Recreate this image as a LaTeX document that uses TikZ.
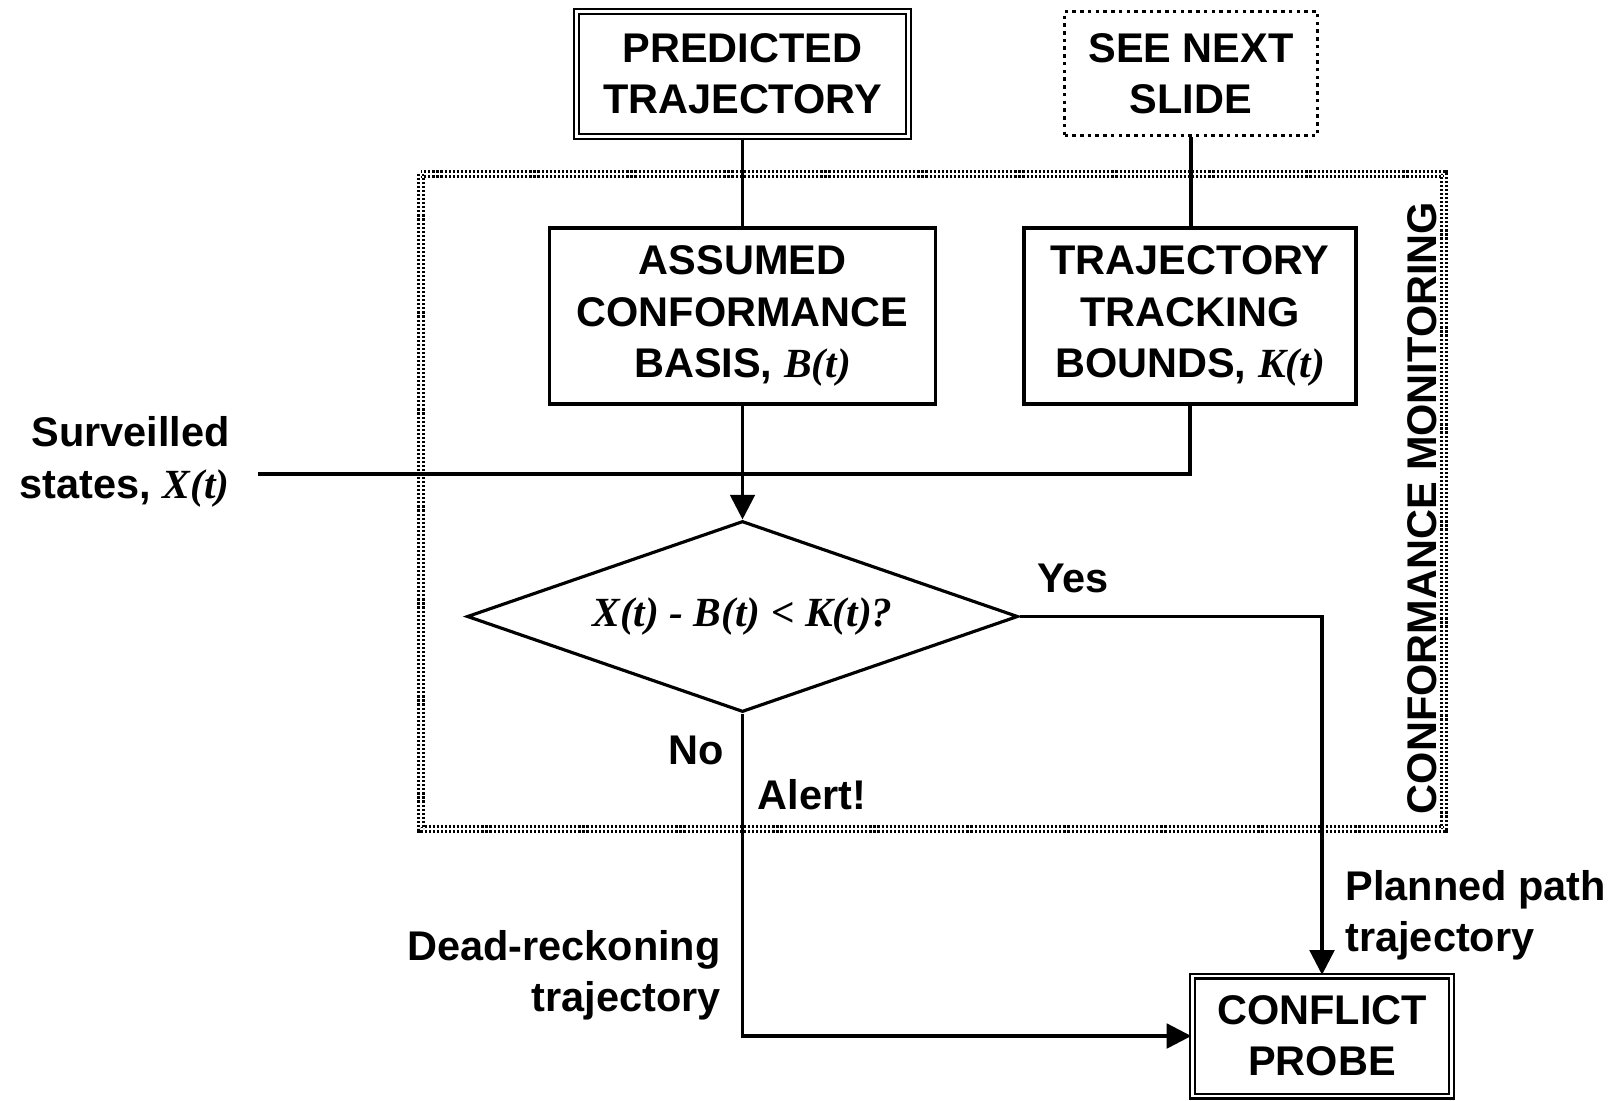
\documentclass[tikz,border=0pt]{standalone}
\usepackage{fontspec}
\setmainfont{Liberation Sans}
\newfontfamily\timesbi{Liberation Serif}
\usetikzlibrary{shapes.geometric,arrows.meta,positioning}

\newcommand{\tvar}[1]{{\timesbi\bfseries\itshape #1}}

\tikzset{
  every node/.style={font=\fontsize{11.8}{14.6}\selectfont\bfseries},
  box/.style={draw, line width=0.9pt, align=center, inner sep=0pt},
  dblbox/.style={box, double, line width=0.7pt, double distance=0.6pt},
  dotbox/.style={box, line width=1pt, dash pattern=on 1pt off 1.2pt},
  decision/.style={box, diamond, aspect=2.885, minimum width=5.51cm, minimum height=1.91cm},
  frame/.style={double, line width=0.65pt, double distance=0.8pt, dash pattern=on 0.6pt off 0.55pt},
  line/.style={line width=0.9pt},
  arrow/.style={line, -{Triangle[length=7pt,width=7pt]}}
}

\begin{document}
\begin{tikzpicture}
\useasboundingbox (0,0) rectangle (16.15,-11);

% outer monitoring frame
\draw[frame] (4.21,-1.74) rectangle (14.44,-8.29);
\node[rotate=90] (cmlabel) at (14.22,-5.08) {CONFORMANCE MONITORING};

\node[dblbox, minimum width=3.32cm, minimum height=1.25cm] (pred) at (7.425,-0.74) {PREDICTED\\TRAJECTORY};
\node[dotbox, minimum width=2.53cm, minimum height=1.24cm] (next) at (11.91,-0.735) {SEE NEXT\\SLIDE};

\node[box, minimum width=3.86cm, minimum height=1.76cm] (basis) at (7.425,-3.16) {ASSUMED\\CONFORMANCE\\BASIS, \tvar{B(t)}};
\node[box, minimum width=3.32cm, minimum height=1.76cm] (bounds) at (11.90,-3.16) {TRAJECTORY\\TRACKING\\BOUNDS, \tvar{K(t)}};

\node[decision] (check) at (7.425,-6.165) {\tvar{X(t) - B(t) < K(t)?}};

\node[dblbox, minimum width=2.59cm, minimum height=1.2cm] (probe) at (13.22,-10.36) {CONFLICT\\PROBE};

\node[anchor=east, align=right] (surv) at (2.42,-4.62) {Surveilled\\states, \tvar{X(t)}};
\coordinate (xin) at (2.58,-4.74);

\draw[line] (pred) -- (basis);
\draw[line] (next) -- (next |- bounds.north);
\draw[line] (xin) -| (bounds.south);
\draw[arrow] (basis) -- (check);
\draw[arrow] (check.east) -| (probe.north);
\draw[arrow] (check.south) |- (probe.west);

\node (yes) at (10.73,-5.78) {Yes};
\node (no) at (6.96,-7.50) {No};
\node (alert) at (8.12,-7.95) {Alert!};
\node[anchor=east, align=right] (dead) at (7.33,-9.75) {Dead-reckoning\\trajectory};
\node[anchor=west, align=left] (plan) at (13.33,-9.15) {Planned path\\trajectory};
\end{tikzpicture}
\end{document}
